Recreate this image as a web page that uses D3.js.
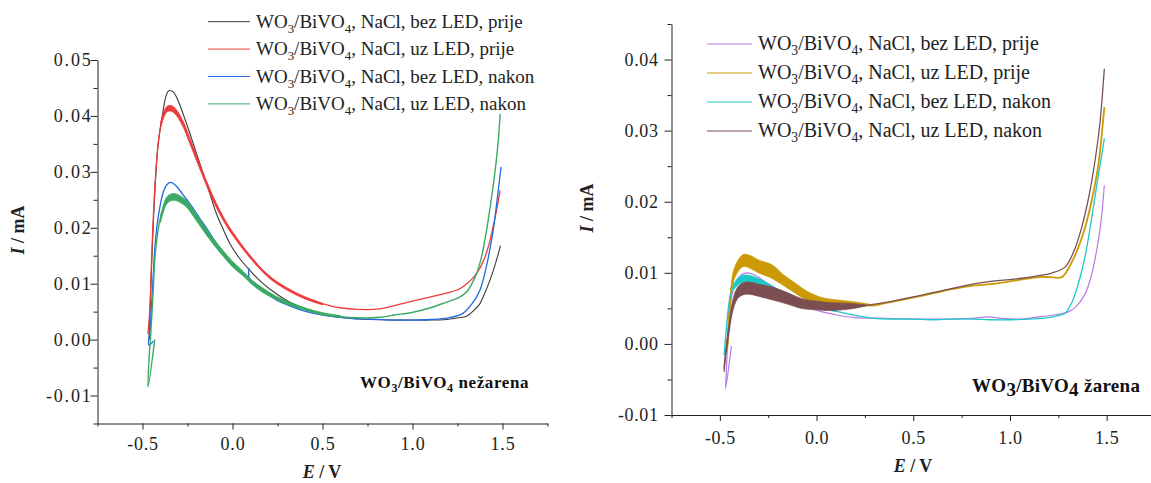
<!DOCTYPE html>
<html><head><meta charset="utf-8">
<script src="https://cdn.jsdelivr.net/npm/d3@7"></script>
<style>
body{margin:0;background:#fff;}
svg{display:block;font-family:"Liberation Serif","Times New Roman",serif;}
</style></head><body>
<svg id="c" width="1151" height="483"></svg>
<script>
// ---------------- DATA ----------------
const xTicks = [-0.5, 0, 0.5, 1.0, 1.5];
const xTickLabels = ["-0.5", "0.0", "0.5", "1.0", "1.5"];
const xMinorTicks = [-0.75, -0.25, 0.25, 0.75, 1.25, 1.75];

const yTicksLeft = [-0.01, 0, 0.01, 0.02, 0.03, 0.04, 0.05];
const yTickLabelsLeft = ["-0.01", "0.00", "0.01", "0.02", "0.03", "0.04", "0.05"];
const yMinorLeft = [-0.015, -0.005, 0.005, 0.015, 0.025, 0.035, 0.045];

const yTicksRight = [-0.01, 0, 0.01, 0.02, 0.03, 0.04];
const yTickLabelsRight = ["-0.01", "0.00", "0.01", "0.02", "0.03", "0.04"];
const yMinorRight = [-0.005, 0.005, 0.015, 0.025, 0.035, 0.045];

const legendLeft = ["WO_3/BiVO_4, NaCl, bez LED, prije", "WO_3/BiVO_4, NaCl, uz LED, prije",
                    "WO_3/BiVO_4, NaCl, bez LED, nakon", "WO_3/BiVO_4, NaCl, uz LED, nakon"];
const legendRight = ["WO_3/BiVO_4, NaCl, bez LED, prije", "WO_3/BiVO_4, NaCl, uz LED, prije",
                     "WO_3/BiVO_4, NaCl, bez LED, nakon", "WO_3/BiVO_4, NaCl, uz LED, nakon"];

// Left panel (nežarena): [E / V, I / mA]
const blackScan = [[-0.463,0.000],[-0.455,0.008],[-0.441,0.020],[-0.425,0.030],[-0.413,0.035],[-0.39,0.040],[-0.37,0.0435],[-0.354,0.0445],[-0.33,0.0443],[-0.31,0.0433],[-0.293,0.0420],[-0.265,0.0395],[-0.237,0.0369],[-0.2,0.0333],[-0.163,0.0297],[-0.125,0.0260],[-0.089,0.0225],[-0.05,0.0196],[-0.015,0.0172],[0.04,0.0145],[0.096,0.0124],[0.17,0.0100],[0.243,0.0082],[0.33,0.0065],[0.429,0.0052],[0.51,0.0045],[0.596,0.0040],[0.7,0.0037],[0.8,0.0036],[0.9,0.0035],[1.0,0.0035],[1.1,0.0035],[1.189,0.0036],[1.25,0.0039],[1.3,0.0042],[1.34,0.0052],[1.374,0.0064],[1.40,0.0082],[1.43,0.0106],[1.46,0.0135],[1.489,0.0168]];
const redScan = [[-0.47,0.001],[-0.462,0.004],[-0.455,0.009],[-0.45,0.0142],[-0.44,0.022],[-0.422,0.0318],[-0.405,0.037],[-0.39,0.0395],[-0.37,0.0410],[-0.348,0.0414],[-0.325,0.0410],[-0.30,0.0400],[-0.274,0.0385],[-0.24,0.0358],[-0.2,0.0325],[-0.163,0.0295],[-0.126,0.0265],[-0.09,0.0240],[-0.052,0.0217],[0.0,0.0190],[0.041,0.0171],[0.1,0.0147],[0.17,0.0123],[0.24,0.0104],[0.318,0.0088],[0.4,0.0075],[0.503,0.0064],[0.596,0.0057],[0.7,0.0054],[0.818,0.0055],[0.95,0.0065],[1.096,0.0076],[1.2,0.0084],[1.263,0.0091],[1.31,0.0102],[1.356,0.0118],[1.40,0.0145],[1.43,0.0177],[1.46,0.0220],[1.487,0.0267]];
const redBand = [[-0.40,0.0388,0.0378],[-0.37,0.0415,0.0405],[-0.348,0.0419,0.0409],[-0.32,0.0414,0.0404],[-0.28,0.0394,0.0384],[-0.24,0.0363,0.0353],[-0.20,0.0329,0.0320],[-0.15,0.0288,0.0280],[-0.10,0.0251,0.0243],[-0.05,0.0219,0.0212],[0.00,0.0193,0.0187],[0.10,0.0150,0.0145],[0.20,0.0115,0.0111],[0.30,0.0093,0.0089],[0.40,0.0077,0.0073],[0.50,0.0065,0.0062]];
const blueScan = [[-0.44,-0.0003],[-0.465,-0.001],[-0.458,0.002],[-0.45,0.006],[-0.441,0.0112],[-0.43,0.017],[-0.413,0.0219],[-0.385,0.0263],[-0.365,0.0277],[-0.343,0.0281],[-0.32,0.0277],[-0.30,0.0270],[-0.274,0.0259],[-0.23,0.0240],[-0.182,0.0217],[-0.135,0.0195],[-0.089,0.0172],[-0.045,0.0153],[0.003,0.0136],[0.05,0.0120],[0.085,0.0110],[0.09,0.0128],[0.096,0.0106],[0.17,0.0087],[0.243,0.0071],[0.32,0.0060],[0.411,0.0050],[0.5,0.0044],[0.596,0.0040],[0.7,0.0037],[0.8,0.0036],[0.9,0.0035],[1.0,0.0035],[1.1,0.0036],[1.2,0.0039],[1.28,0.0047],[1.33,0.0064],[1.374,0.0088],[1.41,0.0130],[1.448,0.0195],[1.47,0.0250],[1.492,0.0309]];
const greenScan = [[-0.432,0.000],[-0.469,-0.0085],[-0.463,-0.003],[-0.456,0.000],[-0.45,0.0034],[-0.44,0.009],[-0.432,0.0142],[-0.42,0.018],[-0.404,0.0213],[-0.385,0.0235],[-0.367,0.0248],[-0.345,0.0254],[-0.32,0.0255],[-0.29,0.0251],[-0.256,0.0243],[-0.21,0.0223],[-0.163,0.0201],[-0.11,0.0177],[-0.052,0.0154],[0.0,0.0135],[0.059,0.0118],[0.11,0.0102],[0.17,0.0088],[0.24,0.0075],[0.318,0.0064],[0.41,0.0054],[0.503,0.0046],[0.6,0.0041],[0.7,0.0039],[0.818,0.0040],[0.9,0.0044],[1.003,0.0049],[1.1,0.0057],[1.189,0.0067],[1.25,0.0074],[1.3,0.0085],[1.356,0.0118],[1.385,0.0150],[1.411,0.0195],[1.435,0.0245],[1.457,0.0297],[1.475,0.0350],[1.487,0.0404]];
const greenBand = [[-0.40,0.0221,0.0209],[-0.367,0.0254,0.0242],[-0.345,0.0260,0.0248],[-0.32,0.0261,0.0249],[-0.29,0.0257,0.0245],[-0.256,0.0249,0.0237],[-0.21,0.0229,0.0217],[-0.163,0.0207,0.0195],[-0.11,0.0182,0.0172],[-0.052,0.0159,0.0149],[0.0,0.0140,0.0130],[0.059,0.0122,0.0114],[0.11,0.0106,0.0098],[0.17,0.0092,0.0084],[0.24,0.0078,0.0072],[0.318,0.0067,0.0061],[0.41,0.0056,0.0052],[0.503,0.0048,0.0044],[0.6,0.0043,0.0040]];

// Right panel (žarena)
const purpleScan = [[-0.44,-0.0003],[-0.47,-0.0063],[-0.465,-0.003],[-0.458,0.001],[-0.45,0.004],[-0.44,0.0065],[-0.42,0.0085],[-0.39,0.0097],[-0.358,0.0100],[-0.32,0.0097],[-0.28,0.0090],[-0.23,0.0081],[-0.18,0.0072],[-0.143,0.0066],[-0.08,0.0055],[0.03,0.0045],[0.1,0.0041],[0.2,0.0037],[0.35,0.0036],[0.547,0.0035],[0.7,0.0035],[0.8,0.0036],[0.892,0.0038],[0.95,0.0036],[1.06,0.0035],[1.15,0.0038],[1.236,0.0041],[1.302,0.0045],[1.34,0.0052],[1.388,0.0070],[1.42,0.0095],[1.448,0.0131],[1.47,0.0170],[1.488,0.0223]];
const goldScan = [[-0.46,0.000],[-0.453,0.0038],[-0.44,0.0078],[-0.427,0.0098],[-0.40,0.0112],[-0.376,0.0118],[-0.34,0.0115],[-0.30,0.0109],[-0.229,0.0101],[-0.17,0.0090],[-0.108,0.0078],[-0.05,0.0068],[0.03,0.0060],[0.10,0.0057],[0.168,0.0056],[0.25,0.0055],[0.289,0.0054],[0.35,0.0057],[0.461,0.0063],[0.55,0.0068],[0.633,0.0073],[0.72,0.0078],[0.806,0.0082],[0.9,0.0084],[0.978,0.0087],[1.05,0.0090],[1.15,0.0094],[1.2,0.0094],[1.268,0.0094],[1.31,0.0110],[1.354,0.0136],[1.39,0.0165],[1.423,0.0202],[1.45,0.0240],[1.466,0.0272],[1.488,0.0333]];
const goldBand = [[-0.46,0.000,-0.001],[-0.453,0.0045,0.0030],[-0.44,0.0085,0.0070],[-0.427,0.0105,0.0090],[-0.40,0.0120,0.0104],[-0.376,0.0126,0.0109],[-0.34,0.0124,0.0106],[-0.30,0.0118,0.0100],[-0.229,0.0111,0.0092],[-0.17,0.0097,0.0082],[-0.108,0.0085,0.0071],[-0.05,0.0074,0.0062],[0.03,0.0065,0.0055],[0.10,0.0062,0.0053],[0.168,0.0060,0.0053],[0.25,0.0057,0.0053],[0.289,0.0055,0.0054]];
const cyanScan = [[-0.478,-0.0016],[-0.47,0.001],[-0.46,0.004],[-0.45,0.0062],[-0.43,0.0080],[-0.40,0.0089],[-0.37,0.0092],[-0.34,0.0091],[-0.30,0.0087],[-0.25,0.0080],[-0.2,0.0073],[-0.143,0.0067],[-0.08,0.0059],[0.03,0.0052],[0.1,0.0046],[0.2,0.0040],[0.3,0.0036],[0.4,0.0035],[0.5,0.0035],[0.6,0.0034],[0.7,0.0035],[0.8,0.0035],[0.9,0.0034],[1.0,0.0034],[1.1,0.0035],[1.2,0.0037],[1.25,0.0040],[1.285,0.0043],[1.32,0.0058],[1.354,0.0085],[1.39,0.0125],[1.423,0.0178],[1.45,0.0225],[1.47,0.0258],[1.488,0.0289]];
const cyanBand = [[-0.43,0.0084,0.0076],[-0.40,0.0094,0.0084],[-0.37,0.0097,0.0087],[-0.34,0.0096,0.0086],[-0.30,0.0092,0.0082],[-0.25,0.0085,0.0076],[-0.2,0.0077,0.0069],[-0.143,0.0071,0.0064],[-0.08,0.0062,0.0056],[0.03,0.0054,0.0050],[0.1,0.0048,0.0045]];
const brownScan = [[-0.478,-0.0035],[-0.465,-0.0002],[-0.453,0.0021],[-0.436,0.0051],[-0.41,0.0071],[-0.38,0.0078],[-0.35,0.0079],[-0.30,0.0076],[-0.229,0.0071],[-0.15,0.0064],[-0.08,0.0057],[0.0,0.0054],[0.07,0.0052],[0.17,0.0053],[0.25,0.0054],[0.35,0.0058],[0.461,0.0064],[0.55,0.0069],[0.633,0.0074],[0.72,0.0079],[0.806,0.0084],[0.9,0.0088],[0.978,0.0090],[1.05,0.0092],[1.15,0.0096],[1.22,0.0100],[1.285,0.0108],[1.33,0.0130],[1.371,0.0164],[1.41,0.0210],[1.44,0.0258],[1.465,0.0310],[1.488,0.0387]];
const brownBand = [[-0.478,-0.0031,-0.0039],[-0.465,0.0003,-0.0008],[-0.453,0.0027,0.0014],[-0.436,0.0058,0.0043],[-0.41,0.0079,0.0063],[-0.38,0.0086,0.0069],[-0.35,0.0087,0.0070],[-0.30,0.0084,0.0067],[-0.229,0.0080,0.0062],[-0.15,0.0072,0.0056],[-0.08,0.0064,0.0050],[0.0,0.0060,0.0048],[0.07,0.0058,0.0047],[0.17,0.0057,0.0049],[0.25,0.0055,0.0053]];

// ---------------- DRAWING ----------------
const svg = d3.select("#c");

function addSubText(sel, str, sub) {
  const parts = str.split(/_(\d)/).filter(p => p !== "");
  const segs = str.split(/_(\d)/);
  let back = 0;
  segs.forEach((p, i) => {
    if (p === "") return;
    if (i % 2 === 1) {
      sel.append("tspan").attr("dy", sub.dy - back).attr("font-size", sub.size).text(p);
      back = sub.dy;
    } else {
      const t = sel.append("tspan").text(p);
      if (back) t.attr("dy", -back);
      back = 0;
    }
  });
}

function panel(cfg) {
  const g = svg.append("g");
  const x = d3.scaleLinear().domain([-0.75, 1.75]).range(cfg.xRange);
  const y = d3.scaleLinear().domain(cfg.yDomain).range(cfg.yRange);
  const styleAxis = sel => sel.attr("font-family", "Liberation Serif").attr("font-size", cfg.tickFont);
  g.append("g").attr("transform", `translate(0,${cfg.yRange[0]})`)
    .call(d3.axisBottom(x).tickValues(xTicks).tickFormat((d, i) => xTickLabels[i]).tickSizeInner(6).tickSizeOuter(0).tickPadding(cfg.xPad))
    .call(styleAxis)
    .selectAll("text").style("font-family", "'Liberation Serif'").style("font-size", cfg.tickFont + "px").attr("letter-spacing", cfg.xLS);
  g.append("g").attr("transform", `translate(0,${cfg.yRange[0]})`)
    .call(d3.axisBottom(x).tickValues(xMinorTicks).tickFormat("").tickSizeInner(3).tickSizeOuter(0))
    .call(g2 => g2.selectAll("text").remove())
    .select(".domain").remove();
  g.append("g").attr("transform", `translate(${cfg.xRange[0]},0)`)
    .call(d3.axisLeft(y).tickValues(cfg.yTicks).tickFormat((d, i) => cfg.yLabels[i]).tickSizeInner(7).tickSizeOuter(0).tickPadding(cfg.yPad))
    .call(styleAxis)
    .selectAll("text").style("font-family", "'Liberation Serif'").style("font-size", cfg.tickFont + "px").attr("letter-spacing", cfg.yLS);
  g.append("g").attr("transform", `translate(${cfg.xRange[0]},0)`)
    .call(d3.axisLeft(y).tickValues(cfg.yMinor).tickFormat("").tickSizeInner(4).tickSizeOuter(0))
    .call(g2 => g2.selectAll("text").remove())
    .select(".domain").remove();
  g.selectAll(".tick text").attr("fill", "#222");
  g.selectAll(".domain, .tick line").attr("stroke", "#222");

  const line = d3.line().x(d => x(d[0])).y(d => y(d[1])).curve(d3.curveCatmullRom.alpha(0.5));
  const area = d3.area().x(d => x(d[0])).y0(d => y(d[2])).y1(d => y(d[1])).curve(d3.curveCatmullRom.alpha(0.5));
  cfg.series.forEach(s => {
    if (s.band) g.append("path").attr("d", area(s.band)).attr("fill", s.color).attr("stroke", s.color).attr("stroke-width", 0.8);
    g.append("path").attr("d", line(s.data)).attr("fill", "none").attr("stroke", s.color).attr("stroke-width", s.w);
  });

  // legend
  const lg = g.append("g");
  cfg.legend.forEach((t, i) => {
    const yy = cfg.legPos[1] + i * cfg.legStep;
    lg.append("line").attr("x1", cfg.legPos[0]).attr("x2", cfg.legPos[0] + cfg.legLen)
      .attr("y1", yy).attr("y2", yy).attr("stroke", cfg.series[i].color).attr("stroke-width", 1);
    const tx = lg.append("text").attr("x", cfg.legPos[0] + cfg.legLen + 6).attr("y", yy + 6)
      .attr("font-size", cfg.legFont).attr("fill", "#222");
    addSubText(tx, t, {dy: 5, size: cfg.legFont * 0.68});
  });

  // axis titles
  const yt = g.append("text").attr("transform", `translate(${cfg.yTitle[0]},${cfg.yTitle[1]}) rotate(-90)`)
    .attr("text-anchor", "middle").attr("font-size", 18).attr("font-weight", "bold").attr("fill", "#222");
  yt.append("tspan").attr("font-style", "italic").text("I");
  yt.append("tspan").text(" / mA");
  const xt = g.append("text").attr("x", cfg.xTitle[0]).attr("y", cfg.xTitle[1])
    .attr("text-anchor", "middle").attr("font-size", 18).attr("font-weight", "bold").attr("fill", "#222");
  xt.append("tspan").attr("font-style", "italic").text("E");
  xt.append("tspan").text(" / V");

  // annotation
  const an = g.append("text").attr("x", cfg.ann[0]).attr("y", cfg.ann[1]).attr("font-size", cfg.annFont)
    .attr("font-weight", "bold").attr("fill", "#111").attr("letter-spacing", cfg.annLS);
  addSubText(an, cfg.annText, {dy: cfg.annSubDy, size: cfg.annSub});
}

panel({
  xRange: [97.5, 547.5], yDomain: [-0.015, 0.05], yRange: [423.5, 60],
  yTicks: yTicksLeft, yLabels: yTickLabelsLeft, yMinor: yMinorLeft,
  xPad: 8, yPad: -2, tickFont: 18, xLS: 0.8, yLS: 1.8,
  series: [
    {data: blackScan, color: "#3a3a3a", w: 1.1},
    {data: redScan, band: redBand, color: "#ee3b3b", w: 1.3},
    {data: blueScan, color: "#2369e0", w: 1.3},
    {data: greenScan, band: greenBand, color: "#3aaa66", w: 1.4}
  ],
  legend: legendLeft, legPos: [208, 21.7], legStep: 27.4, legLen: 42, legFont: 19,
  yTitle: [24, 230], xTitle: [322, 478],
  ann: [360, 388], annFont: 17, annLS: 0.6, annText: "WO_3/BiVO_4  nežarena", annSub: 12, annSubDy: 4
});

panel({
  xRange: [671.5, 1155], yDomain: [-0.01, 0.045], yRange: [415, 24],
  yTicks: yTicksRight, yLabels: yTickLabelsRight, yMinor: yMinorRight,
  xPad: 10, yPad: 6, tickFont: 18, xLS: 0.6, yLS: 0.6,
  series: [
    {data: purpleScan, color: "#b47ce6", w: 1.2},
    {data: goldScan, band: goldBand, color: "#cc9a06", w: 1.8},
    {data: cyanScan, band: cyanBand, color: "#1dc8c8", w: 1.3},
    {data: brownScan, band: brownBand, color: "#7b4f52", w: 1.3}
  ],
  legend: legendRight, legPos: [707, 44], legStep: 29, legLen: 45, legFont: 20,
  yTitle: [593, 208], xTitle: [913, 472],
  ann: [972, 392], annFont: 19, annLS: 0.3, annText: "WO_3/BiVO_4  žarena", annSub: 19, annSubDy: 4
});
</script>
</body></html>
